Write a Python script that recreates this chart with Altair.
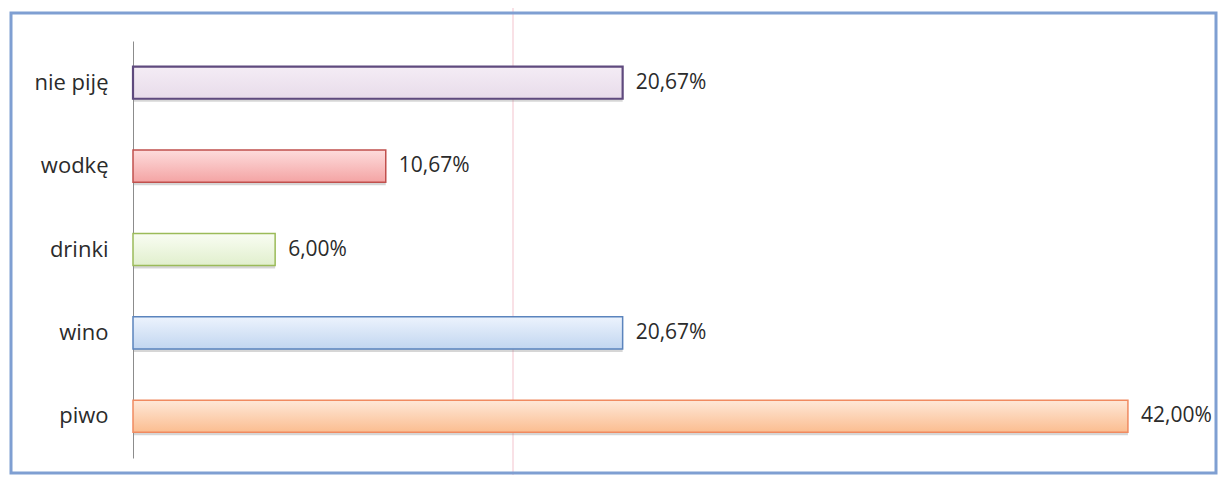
import altair as alt
import pandas as pd

# ---- data ----
categories = ["nie piję", "wodkę", "drinki", "wino", "piwo"]
values = [20.67, 10.67, 6.00, 20.67, 42.00]
labels = ["20,67%", "10,67%", "6,00%", "20,67%", "42,00%"]

df = pd.DataFrame({"cat": categories, "val": values, "label": labels})

# ---- styles (top colour, bottom colour, outline, outline width) ----
styles = {
    "nie piję": ("#f4ecf5", "#e8dcea", "#5f4a7e", 2.2),
    "wodkę": ("#fddcdc", "#f4a4a4", "#c0504d", 1.5),
    "drinki": ("#f9fdf3", "#e1efcd", "#9bbb59", 1.5),
    "wino": ("#ecf3fd", "#c2d6f0", "#5b84bd", 1.5),
    "piwo": ("#fee8d8", "#fbbd90", "#f08a60", 1.5),
}

W, H = 1066, 417
FONT = "Open Sans"
TEXT_COLOR = "#2b2b2b"

x_scale = alt.Scale(domain=[0, 45], nice=False, zero=True)
y_scale = alt.Scale(domain=categories, paddingInner=0.615, paddingOuter=0.3075)

def xenc():
    return alt.X("val:Q", scale=x_scale, axis=None)

def yenc():
    return alt.Y("cat:N", scale=y_scale, sort=categories, title=None)

base = alt.Chart(df)

layers = []

# soft shadow under every bar
shadow = base.mark_bar(color="#8a8a8a", opacity=0.35, yOffset=3).encode(x=xenc(), y=yenc())
layers.append(shadow)

for cat in categories:
    top, bottom, edge, ew = styles[cat]
    grad = alt.Gradient(
        gradient="linear",
        stops=[alt.GradientStop(offset=0, color=top), alt.GradientStop(offset=1, color=bottom)],
        x1=0, y1=0, x2=0, y2=1,
    )
    layers.append(
        base.transform_filter(alt.datum.cat == cat)
        .mark_bar(fill=grad, stroke=edge, strokeWidth=ew)
        .encode(x=xenc(), y=yenc())
    )

text = base.mark_text(
    align="left", baseline="middle", dx=13, font=FONT, fontSize=21, color=TEXT_COLOR
).encode(x=xenc(), y=yenc(), text="label:N")
layers.append(text)

# scan artefact: faint vertical pink line
artefact = alt.Chart(alt.Data(values=[{}])).mark_rule(
    color="#f0b4c0", strokeWidth=1, opacity=0.8
).encode(x=alt.value(380), y=alt.value(-33), y2=alt.value(434))

# outer frame
frame = alt.Chart(alt.Data(values=[{}])).mark_rect(
    fillOpacity=0, stroke="#7f9fd2", strokeWidth=3
).encode(x=alt.value(-122), x2=alt.value(1083), y=alt.value(-28), y2=alt.value(432))

chart = (
    alt.layer(artefact, *layers, frame)
    .properties(
        width=W,
        height=H,
        autosize=alt.AutoSizeParams(type="none"),
        padding={"left": 125, "top": 33, "right": 19, "bottom": 17},
    )
    .configure_view(strokeWidth=0)
    .configure_axisY(
        domain=True,
        domainColor="#8c8c8c",
        domainWidth=1,
        ticks=False,
        grid=False,
        labelFont=FONT,
        labelFontSize=22,
        labelColor=TEXT_COLOR,
        labelPadding=25,
    )
)

chart.save("out.html", embed_options={"renderer": "svg", "actions": False})
